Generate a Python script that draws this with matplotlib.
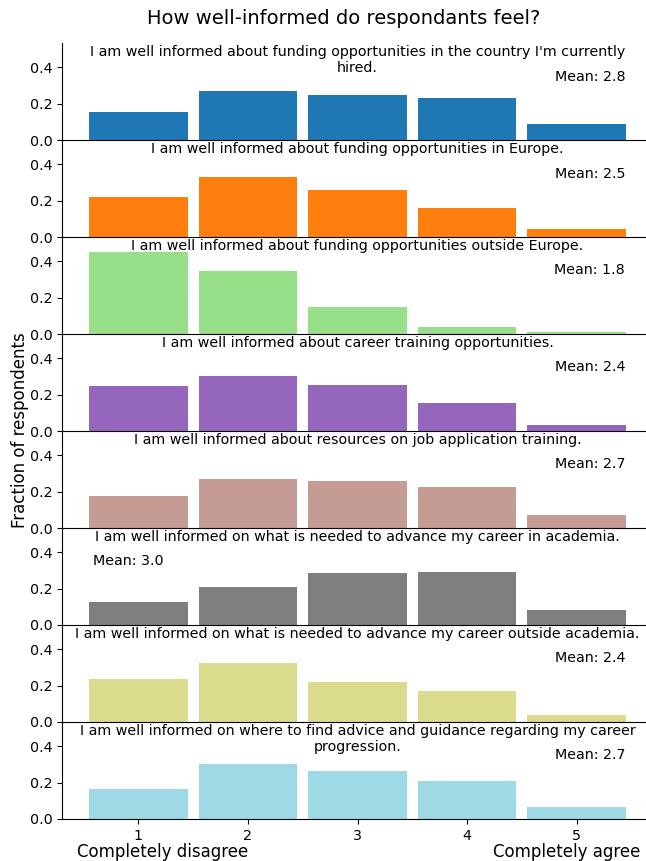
import textwrap
import matplotlib
matplotlib.use('Agg')
import matplotlib.pyplot as plt

# answers 1..5, fraction of respondents per statement
scale = [1, 2, 3, 4, 5]
questions = [
    "I am well informed about funding opportunities in the country I'm currently hired.",
    "I am well informed about funding opportunities in Europe.",
    "I am well informed about funding opportunities outside Europe.",
    "I am well informed about career training opportunities.",
    "I am well informed about resources on job application training.",
    "I am well informed on what is needed to advance my career in academia.",
    "I am well informed on what is needed to advance my career outside academia.",
    "I am well informed on where to find advice and guidance regarding my career progression.",
]
funding_country = [0.156, 0.272, 0.250, 0.233, 0.090]
funding_europe = [0.218, 0.328, 0.257, 0.158, 0.042]
funding_outside = [0.450, 0.345, 0.147, 0.037, 0.013]
career_training = [0.248, 0.303, 0.253, 0.154, 0.033]
job_application = [0.178, 0.272, 0.261, 0.228, 0.073]
advance_academia = [0.128, 0.211, 0.288, 0.294, 0.084]
advance_outside = [0.239, 0.327, 0.222, 0.172, 0.040]
advice_guidance = [0.165, 0.303, 0.264, 0.209, 0.066]
means = [2.8, 2.5, 1.8, 2.4, 2.7, 3.0, 2.4, 2.7]

series = [funding_country, funding_europe, funding_outside, career_training,
          job_application, advance_academia, advance_outside, advice_guidance]
colors = ['#1f77b4', '#ff7f0e', '#98df8a', '#9467bd',
          '#c49c94', '#7f7f7f', '#dbdb8d', '#9edae5']

fs = 10.3

fig, axes = plt.subplots(len(series), 1, sharex=True, sharey=True,
                         figsize=(6.46, 8.61), dpi=100)
fig.subplots_adjust(left=62 / 646, right=653 / 646, top=0.95, bottom=0.0488, hspace=0)

for ax, q, vals, c, m in zip(axes, questions, series, colors, means):
    ax.patch.set_visible(False)
    ax.bar(scale, vals, width=0.9, color=c)
    ax.text(0.5, 0.975, textwrap.fill(q, 75), transform=ax.transAxes,
            ha='center', va='top', fontsize=fs, linespacing=1.1)
    # mean label goes left when the right side is crowded
    if vals[3] > 0.26:
        ax.text(0.052, 0.655, f'Mean: {m:.1f}', transform=ax.transAxes,
                ha='left', va='center', fontsize=fs)
    else:
        ax.text(0.953, 0.655, f'Mean: {m:.1f}', transform=ax.transAxes,
                ha='right', va='center', fontsize=fs)
    ax.spines['top'].set_visible(False)
    ax.spines['right'].set_visible(False)
    ax.spines['bottom'].set_zorder(5)
    ax.set_yticks([0.0, 0.2, 0.4])
    ax.tick_params(labelsize=fs)

for ax in axes[:-1]:
    ax.tick_params(axis='x', bottom=False)

axes[0].set_ylim(0, 0.534)
axes[-1].set_xticks(scale)

fig.suptitle('How well-informed do respondants feel?', x=344 / 646, y=0.99,
             va='top', fontsize=14)
fig.text(20 / 646, 0.5, 'Fraction of respondents', rotation=90,
         ha='center', va='center', fontsize=12)
fig.text(77 / 646, 0.0, 'Completely disagree', ha='left', va='bottom', fontsize=12)
fig.text(640 / 646, 0.0, 'Completely agree', ha='right', va='bottom', fontsize=12)

fig.savefig('out.png', dpi=100)
